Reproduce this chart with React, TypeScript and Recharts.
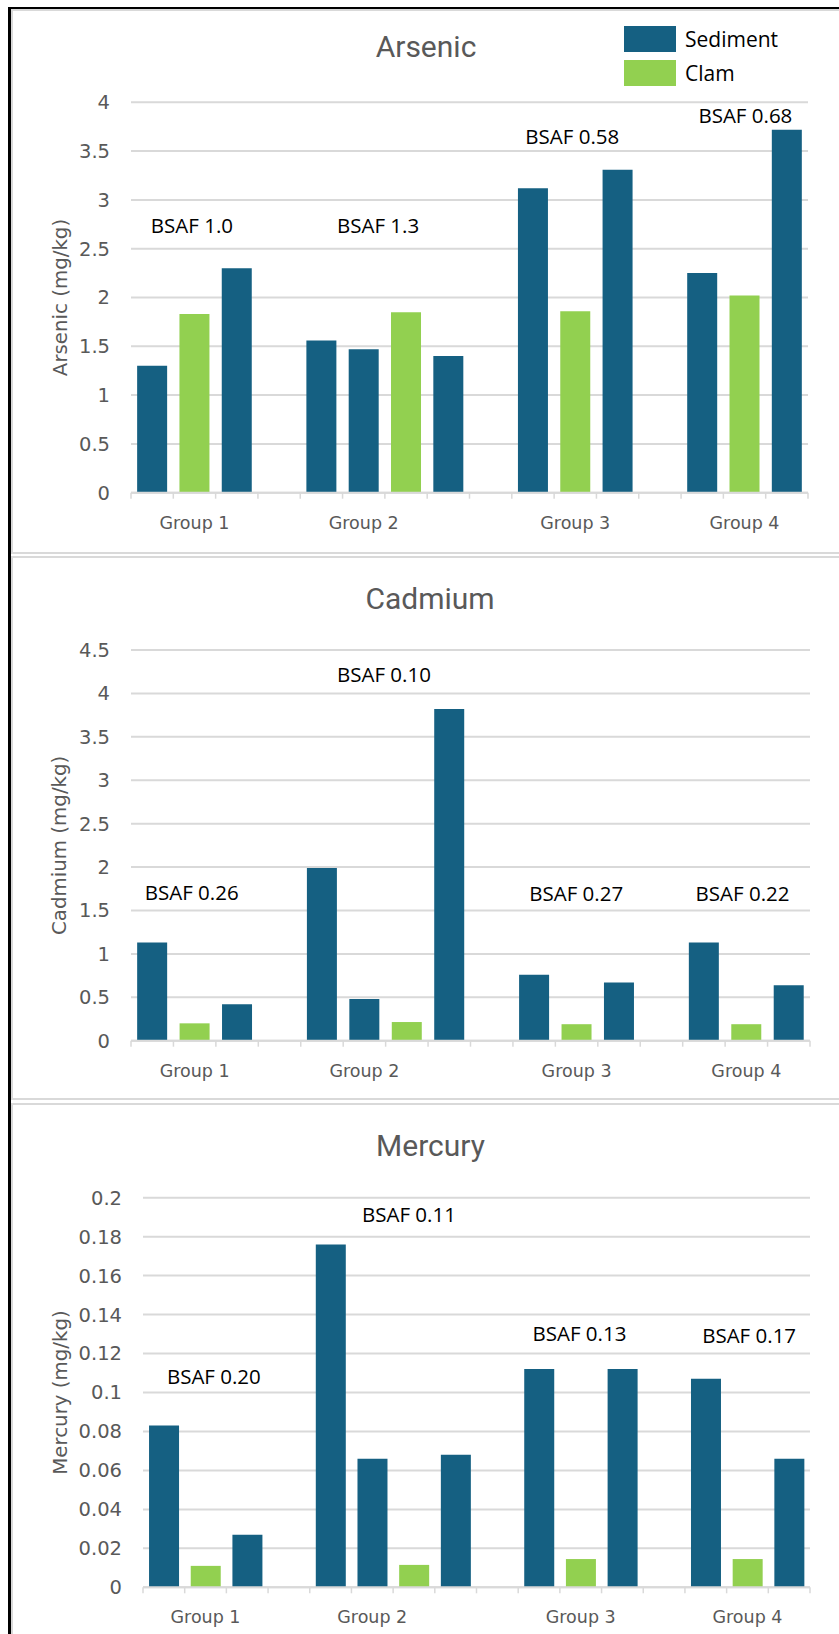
import React from 'react';
import { BarChart, Bar, XAxis, YAxis, CartesianGrid, ReferenceDot, Legend } from 'recharts';

// ---------- data ----------
const slots = [
  'g1a', 'g1b', 'g1c', 'g1gap',
  'g2a', 'g2b', 'g2c', 'g2d', 'g2gap',
  'g3a', 'g3b', 'g3c', 'g3gap',
  'g4a', 'g4b', 'g4c',
];
const groupLabels = ['', 'Group 1', '', '', '', 'Group 2', '', '', '', '', 'Group 3', '', '', '', 'Group 4', ''];
const seriesOrder = ['Sediment', 'Clam'];

const arsenicSediment = [1.3, null, 2.3, null, 1.56, 1.47, null, 1.4, null, 3.12, null, 3.31, null, 2.25, null, 3.72];
const arsenicClam = [null, 1.83, null, null, null, null, 1.85, null, null, null, 1.86, null, null, null, 2.02, null];

const cadmiumSediment = [1.13, null, 0.42, null, 1.99, 0.48, null, 3.82, null, 0.76, null, 0.67, null, 1.13, null, 0.64];
const cadmiumClam = [null, 0.2, null, null, null, null, 0.215, null, null, null, 0.19, null, null, null, 0.19, null];

const mercurySediment = [0.083, null, 0.027, null, 0.176, 0.066, null, 0.068, null, 0.112, null, 0.112, null, 0.107, null, 0.066];
const mercuryClam = [null, 0.011, null, null, null, null, 0.0115, null, null, null, 0.0145, null, null, null, 0.0145, null];

const arsenicTicks = [0, 0.5, 1, 1.5, 2, 2.5, 3, 3.5, 4];
const cadmiumTicks = [0, 0.5, 1, 1.5, 2, 2.5, 3, 3.5, 4, 4.5];
const mercuryTicks = [0, 0.02, 0.04, 0.06, 0.08, 0.1, 0.12, 0.14, 0.16, 0.18, 0.2];

// BSAF annotations: x in slot units (0..16), y in axis units
const arsenicNotes = [
  { text: 'BSAF 1.0', x: 1.44, y: 2.74 },
  { text: 'BSAF 1.3', x: 5.84, y: 2.74 },
  { text: 'BSAF 0.58', x: 10.43, y: 3.65 },
  { text: 'BSAF 0.68', x: 14.52, y: 3.865 },
];
const cadmiumNotes = [
  { text: 'BSAF 0.26', x: 1.43, y: 1.7 },
  { text: 'BSAF 0.10', x: 5.96, y: 4.22 },
  { text: 'BSAF 0.27', x: 10.49, y: 1.69 },
  { text: 'BSAF 0.22', x: 14.41, y: 1.69 },
];
const mercuryNotes = [
  { text: 'BSAF 0.20', x: 1.7, y: 0.1082 },
  { text: 'BSAF 0.11', x: 6.38, y: 0.1914 },
  { text: 'BSAF 0.13', x: 10.47, y: 0.13 },
  { text: 'BSAF 0.17', x: 14.54, y: 0.1294 },
];

// ---------- styling ----------
const SEDIMENT = '#156082';
const CLAM = '#92D050';
const GRID = '#D9D9D9';
const TEXT_GRAY = '#595959';
const TICK_FONT = 'DejaVu Sans';
const CHART_W = 831;
const YAXIS_W = 101;

function buildRows(sed: (number | null)[], clam: (number | null)[]) {
  return slots.map((s, i) => ({ slot: s, pos: i + 0.5, sediment: sed[i], clam: clam[i] }));
}

function SlotTick(props: any) {
  const { x, y, payload, bw } = props;
  const i = slots.indexOf(payload.value);
  const label = groupLabels[i];
  const l = x - bw / 2;
  const r = x + bw / 2;
  return (
    <g>
      <line x1={l} x2={l} y1={y} y2={y + 6} stroke={GRID} strokeWidth={1.5} />
      {i === slots.length - 1 && <line x1={r} x2={r} y1={y} y2={y + 6} stroke={GRID} strokeWidth={1.5} />}
      {label && (
        <text x={x} y={y + 36} textAnchor="middle" fill={TEXT_GRAY} fontSize={17.5} fontFamily={TICK_FONT}>
          {label}
        </text>
      )}
    </g>
  );
}

function YTitle(props: any) {
  const { viewBox, text, lx } = props;
  const cy = viewBox.y + viewBox.height / 2;
  return (
    <text
      x={lx}
      y={cy}
      transform={`rotate(-90, ${lx}, ${cy})`}
      textAnchor="middle"
      dominantBaseline="central"
      fill={TEXT_GRAY}
      fontSize={19.8}
      fontFamily={TICK_FONT}
    >
      {text}
    </text>
  );
}

function LegendContent(props: any) {
  const items = [...(props.payload || [])].sort(
    (a: any, b: any) => seriesOrder.indexOf(a.value) - seriesOrder.indexOf(b.value)
  );
  return (
    <div>
      {items.map((e: any) => (
        <div key={e.value} style={{ display: 'flex', alignItems: 'center', height: 34 }}>
          <span style={{ display: 'inline-block', width: 52, height: 26, background: e.color }} />
          <span style={{ marginLeft: 9, fontFamily: 'Open Sans', fontSize: 21, color: '#000' }}>{e.value}</span>
        </div>
      ))}
    </div>
  );
}

type PanelProps = {
  top: number;
  height: number;
  margin: { top: number; right: number; bottom: number; left: number };
  sed: (number | null)[];
  clam: (number | null)[];
  ticks: number[];
  notes: { text: string; x: number; y: number }[];
  yTitle: string;
  legend?: boolean;
};

function Panel(p: PanelProps) {
  const data = buildRows(p.sed, p.clam);
  const plotW = CHART_W - p.margin.left - YAXIS_W - p.margin.right;
  const bw = plotW / slots.length;
  const max = p.ticks[p.ticks.length - 1];
  return (
    <div style={{ position: 'absolute', left: 0, top: p.top }}>
      <BarChart width={CHART_W} height={p.height} data={data} margin={p.margin} barCategoryGap="14.5%">
        <CartesianGrid vertical={false} stroke={GRID} strokeWidth={2} />
        <XAxis
          dataKey="slot"
          type="category"
          interval={0}
          height={40}
          tickLine={false}
          tickSize={0}
          tickMargin={0}
          axisLine={{ stroke: GRID, strokeWidth: 2 }}
          tick={<SlotTick bw={bw} />}
        />
        <XAxis xAxisId="pos" dataKey="pos" type="number" domain={[0, slots.length]} hide />
        <YAxis
          width={YAXIS_W}
          domain={[0, max]}
          ticks={p.ticks}
          interval={0}
          axisLine={false}
          tickLine={false}
          tickSize={0}
          tickMargin={21}
          tick={{ fill: TEXT_GRAY, fontSize: 19.5, fontFamily: TICK_FONT }}
          label={<YTitle text={p.yTitle} lx={52} />}
        />
        {p.legend && (
          <Legend
            layout="horizontal"
            verticalAlign="middle"
            align="center"
            wrapperStyle={{ left: 616, top: 15, width: 200, height: 70 }}
            content={<LegendContent />}
          />
        )}
        <Bar dataKey="sediment" name="Sediment" stackId="s" fill={SEDIMENT} isAnimationActive={false} />
        <Bar dataKey="clam" name="Clam" stackId="s" fill={CLAM} isAnimationActive={false} />
        {p.notes.map((n) => (
          <ReferenceDot
            key={n.text}
            xAxisId="pos"
            x={n.x}
            y={n.y}
            r={0}
            fill="none"
            stroke="none"
            label={{ value: n.text, position: 'center', fill: '#000', fontSize: 20.5, fontFamily: 'Open Sans' }}
          />
        ))}
      </BarChart>
    </div>
  );
}

const titles = [
  { text: 'Arsenic', x: 418, y: 50.2 },
  { text: 'Cadmium', x: 422, y: 601.7 },
  { text: 'Mercury', x: 422.5, y: 1149.2 },
];

export default function App() {
  return (
    <div
      style={{
        position: 'fixed',
        top: 7,
        left: 8,
        width: CHART_W,
        height: 1627,
        overflow: 'hidden',
        background: '#fff',
      }}
    >
      {/* panel frames */}
      <div style={{ position: 'absolute', left: 3, top: 2, width: 840, height: 545, border: `2px solid ${GRID}`, boxSizing: 'border-box' }} />
      <div style={{ position: 'absolute', left: 3, top: 548.5, width: 840, height: 544.5, border: `2px solid ${GRID}`, boxSizing: 'border-box' }} />
      <div style={{ position: 'absolute', left: 3, top: 1095.5, width: 840, height: 600, border: `2px solid ${GRID}`, boxSizing: 'border-box' }} />
      {/* outer black frame */}
      <div style={{ position: 'absolute', left: 0, top: 0, width: 3, height: 1627, background: '#000' }} />
      <div style={{ position: 'absolute', left: 0, top: 0, width: CHART_W, height: 2, background: '#000' }} />

      <Panel
        top={0}
        height={547}
        margin={{ top: 95.3, right: 31, bottom: 21.3, left: 22 }}
        sed={arsenicSediment}
        clam={arsenicClam}
        ticks={arsenicTicks}
        notes={arsenicNotes}
        yTitle="Arsenic (mg/kg)"
        legend
      />
      <Panel
        top={549}
        height={545}
        margin={{ top: 94, right: 29, bottom: 20.3, left: 22 }}
        sed={cadmiumSediment}
        clam={cadmiumClam}
        ticks={cadmiumTicks}
        notes={cadmiumNotes}
        yTitle="Cadmium (mg/kg)"
      />
      <Panel
        top={1096}
        height={531}
        margin={{ top: 94.7, right: 29, bottom: 6.7, left: 34 }}
        sed={mercurySediment}
        clam={mercuryClam}
        ticks={mercuryTicks}
        notes={mercuryNotes}
        yTitle="Mercury (mg/kg)"
      />

      <svg width={CHART_W} height={1627} style={{ position: 'absolute', left: 0, top: 0, pointerEvents: 'none' }}>
        {titles.map((t) => (
          <text key={t.text} x={t.x} y={t.y} textAnchor="middle" fill={TEXT_GRAY} fontSize={30} fontFamily="Roboto">
            {t.text}
          </text>
        ))}
      </svg>
    </div>
  );
}
